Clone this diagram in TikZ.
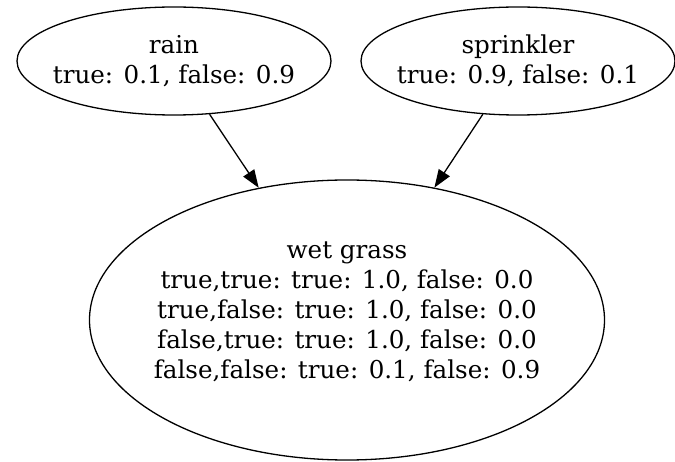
\documentclass[tikz,border=0pt]{standalone}
\usepackage{fontspec}
\setmainfont{DejaVu Serif}
\usetikzlibrary{arrows.meta}
\usetikzlibrary{shapes.geometric,positioning}

\begin{document}
\begin{tikzpicture} [-{Triangle[length=18pt,width=13pt]},node distance=344pt,line width=1.3pt,
  var/.style={ellipse,draw,align=center,inner xsep=-18pt,inner ysep=0pt,minimum width=314pt,minimum height=108pt,font=\fontsize{24.6}{30}\selectfont}]

  \useasboundingbox (0,0) rectangle (675pt,-462pt);

  \node[var] (rain) at (174pt,-61pt) {rain\\true: 0.1, false: 0.9};
  \node[var] (sprinkler) [right of=rain] {sprinkler\\true: 0.9, false: 0.1};
  \node[var,minimum width=515pt,minimum height=280pt,text depth=20pt] (wet) at (347pt,-320pt)
    {wet grass\\true,true: true: 1.0, false: 0.0\\true,false: true: 1.0, false: 0.0\\false,true: true: 1.0, false: 0.0\\false,false: true: 0.1, false: 0.9};

  \path
    (rain) edge (wet)
    (sprinkler) edge (wet);

\end{tikzpicture}
\end{document}
